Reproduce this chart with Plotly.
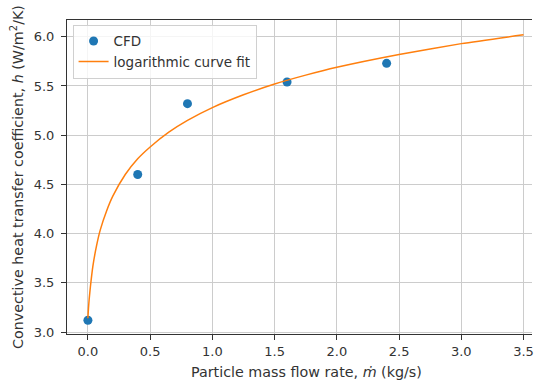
import plotly.graph_objects as go

# CFD data points
cfd_x = [0.0, 0.4, 0.8, 1.6, 2.4]
cfd_h = [3.12, 4.60, 5.32, 5.54, 5.73]

# logarithmic curve fit
fit_x = [0.0, 0.005, 0.01, 0.02, 0.04, 0.07, 0.1, 0.15, 0.2, 0.3, 0.4, 0.5,
         0.65, 0.8, 1.0, 1.25, 1.5, 1.75, 2.0, 2.5, 3.0, 3.5]
fit_h = [3.14, 3.25, 3.33, 3.46, 3.67, 3.88, 4.04, 4.23, 4.38, 4.60, 4.76, 4.88,
         5.03, 5.15, 5.28, 5.41, 5.52, 5.61, 5.69, 5.82, 5.93, 6.02]

x_ticks = [0.0, 0.5, 1.0, 1.5, 2.0, 2.5, 3.0, 3.5]
y_ticks = [3.0, 3.5, 4.0, 4.5, 5.0, 5.5, 6.0]

x_title = "Particle mass flow rate, <i>ṁ</i> (kg/s)"
y_title = "Convective heat transfer coefficient, <i>h</i> (W/m<sup>2</sup>/K)"

fig = go.Figure()
fig.add_trace(go.Scatter(x=cfd_x, y=cfd_h, mode="markers", name="CFD",
                         marker=dict(color="#1f77b4", size=9)))
fig.add_trace(go.Scatter(x=fit_x, y=fit_h, mode="lines", name="logarithmic curve fit",
                         line=dict(color="#ff7f0e", width=1.5, shape="spline", smoothing=0.6)))

axis_common = dict(showgrid=True, gridcolor="#cccccc", gridwidth=1, zeroline=False,
                   showline=True, linecolor="#333333", linewidth=1,
                   ticks="outside", ticklen=5, tickcolor="#333333",
                   tickfont=dict(family="DejaVu Sans", size=13, color="#333333"))

fig.update_layout(
    width=534, height=380,
    margin=dict(l=67, r=0, t=20, b=46),
    plot_bgcolor="white", paper_bgcolor="white",
    font=dict(family="DejaVu Sans", size=13, color="#333333"),
    showlegend=True,
    legend=dict(x=0.012, y=0.985, xanchor="left", yanchor="top",
                bgcolor="rgba(255,255,255,0.8)", bordercolor="#d0d0d0", borderwidth=1,
                font=dict(family="DejaVu Sans", size=13.5, color="#333333"),
                tracegroupgap=0),
    xaxis=dict(range=[-0.168, 3.568], tickvals=x_ticks,
               ticktext=[f"{v:.1f}" for v in x_ticks], mirror=True,
               ticklabeloverflow="allow",
               **axis_common),
    yaxis=dict(range=[2.98, 6.17], tickvals=y_ticks,
               ticktext=[f"{v:.1f}" for v in y_ticks], mirror=False,
               ticklabelstandoff=4,
               **axis_common),
    annotations=[
        dict(text=x_title, xref="paper", yref="paper", x=0.516, y=0,
             xanchor="center", yanchor="middle", yshift=-38, showarrow=False,
             font=dict(family="DejaVu Sans", size=14.3, color="#333333")),
        dict(text=y_title, xref="paper", yref="paper", x=0, y=0.5,
             xanchor="center", yanchor="middle", xshift=-50, textangle=-90,
             showarrow=False,
             font=dict(family="DejaVu Sans", size=14.3, color="#333333")),
    ],
)

fig.write_html("out.html")
